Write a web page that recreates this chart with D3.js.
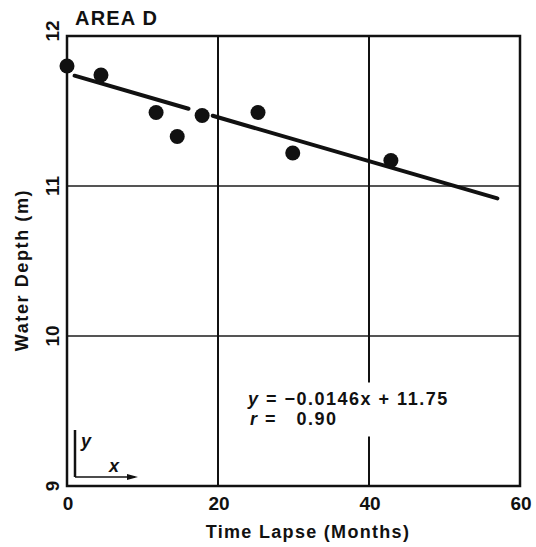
<!DOCTYPE html>
<html>
<head>
<meta charset="utf-8">
<script src="https://cdn.jsdelivr.net/npm/d3@7"></script>
<style>
  body { margin: 0; background: #fff; }
  text { font-family: "Liberation Sans", Arial, sans-serif; fill: #111; font-weight: bold; }
</style>
</head>
<body>
<script>
// data
const months = [0, 4.5, 11.8, 14.6, 17.9, 25.3, 29.9, 42.9];
const depth  = [11.80, 11.74, 11.49, 11.33, 11.47, 11.49, 11.22, 11.17];
const fitSlope = -0.0146, fitIntercept = 11.75;
const fitSegments = [[1, 16.1], [19.3, 57]];   // the fitted line is broken around one point
const xTicks = [0, 20, 40, 60];
const yTicks = [9, 10, 11, 12];

const width = 536, height = 547;
const margin = {top: 36, right: 16, bottom: 61, left: 67};

const svg = d3.select("body").append("svg")
  .attr("width", width)
  .attr("height", height);

const x = d3.scaleLinear().domain([0, 60]).range([margin.left, width - margin.right]);
const y = d3.scaleLinear().domain([9, 12]).range([height - margin.bottom, margin.top]);

// grid
svg.selectAll(".hgrid")
  .data(yTicks.filter(d => d > 9 && d < 12))
  .enter().append("line")
  .attr("x1", x(0)).attr("x2", x(60))
  .attr("y1", d => y(d)).attr("y2", d => y(d))
  .attr("stroke", "#555").attr("stroke-width", 2);

svg.selectAll(".vgrid")
  .data(xTicks.filter(d => d > 0 && d < 60))
  .enter().append("line")
  .attr("x1", d => x(d)).attr("x2", d => x(d))
  .attr("y1", y(9)).attr("y2", y(12))
  .attr("stroke", "#111").attr("stroke-width", 2);

// white box behind the equation (it cuts the 40 grid line)
svg.append("rect")
  .attr("x", x(24)).attr("y", y(9.69))
  .attr("width", x(52) - x(24)).attr("height", y(9.33) - y(9.69))
  .attr("fill", "#fff");

// frame
svg.append("rect")
  .attr("x", x(0)).attr("y", y(12))
  .attr("width", x(60) - x(0)).attr("height", y(9) - y(12))
  .attr("fill", "none").attr("stroke", "#111").attr("stroke-width", 2.5);

// tick labels
svg.selectAll(".xt")
  .data(xTicks)
  .enter().append("text")
  .attr("x", d => x(d) + 1).attr("y", y(9) + 24)
  .attr("text-anchor", "middle")
  .attr("font-size", 19)
  .text(d => d);

svg.selectAll(".yt")
  .data(yTicks)
  .enter().append("text")
  .attr("transform", d => "translate(" + (x(0) - 8) + "," + (d == 12 ? y(d) - 5 : y(d)) + ") rotate(-90)")
  .attr("text-anchor", "middle")
  .attr("font-size", 19)
  .text(d => d);

// axis titles
svg.append("text")
  .attr("x", 308).attr("y", 538)
  .attr("text-anchor", "middle")
  .attr("font-size", 18).attr("letter-spacing", 1.3)
  .text("Time Lapse (Months)");

svg.append("text")
  .attr("transform", "translate(28," + 270 + ") rotate(-90)")
  .attr("text-anchor", "middle")
  .attr("font-size", 18).attr("letter-spacing", 1.6)
  .text("Water Depth (m)");

svg.append("text")
  .attr("x", 75).attr("y", 25)
  .attr("font-size", 20).attr("letter-spacing", 1.2)
  .text("AREA  D");

// fitted line
const line = d3.line()
  .x(d => x(d))
  .y(d => y(fitSlope * d + fitIntercept));

svg.selectAll(".fit")
  .data(fitSegments)
  .enter().append("path")
  .attr("d", d => line(d))
  .attr("fill", "none")
  .attr("stroke", "#111")
  .attr("stroke-width", 4)
  .attr("stroke-linecap", "round");

// points
svg.selectAll(".point")
  .data(months.map((m, i) => [m, depth[i]]))
  .enter().append("circle")
  .attr("cx", d => x(d[0]))
  .attr("cy", d => y(d[1]))
  .attr("r", 7.5)
  .attr("fill", "#111");

// equation
const eq = svg.append("text")
  .attr("x", 248).attr("y", 405)
  .attr("font-size", 18).attr("letter-spacing", 1.5);
eq.append("tspan").attr("font-style", "italic").text("y");
eq.append("tspan").text(" = \u22120.0146x + 11.75");

const rr = svg.append("text")
  .attr("x", 250).attr("y", 425)
  .attr("font-size", 18).attr("letter-spacing", 1.5)
  .attr("xml:space", "preserve");
rr.append("tspan").attr("font-style", "italic").text("r");
rr.append("tspan").text(" =   0.90");

// little y/x direction key in the corner
const ox = x(0) + 8, oy = y(9) - 9;
svg.append("line")
  .attr("x1", ox).attr("x2", ox).attr("y1", oy).attr("y2", oy - 47)
  .attr("stroke", "#111").attr("stroke-width", 2.5);
svg.append("line")
  .attr("x1", ox).attr("x2", ox + 60).attr("y1", oy).attr("y2", oy)
  .attr("stroke", "#111").attr("stroke-width", 1.5);
svg.append("path")
  .attr("d", d3.line()([[ox + 63, oy], [ox + 52, oy - 3], [ox + 52, oy + 3]]))
  .attr("fill", "#111");
svg.append("text")
  .attr("x", ox + 6).attr("y", oy - 30)
  .attr("font-size", 18).attr("font-style", "italic")
  .text("y");
svg.append("text")
  .attr("x", ox + 34).attr("y", oy - 5)
  .attr("font-size", 18).attr("font-style", "italic")
  .text("x");
</script>
</body>
</html>
